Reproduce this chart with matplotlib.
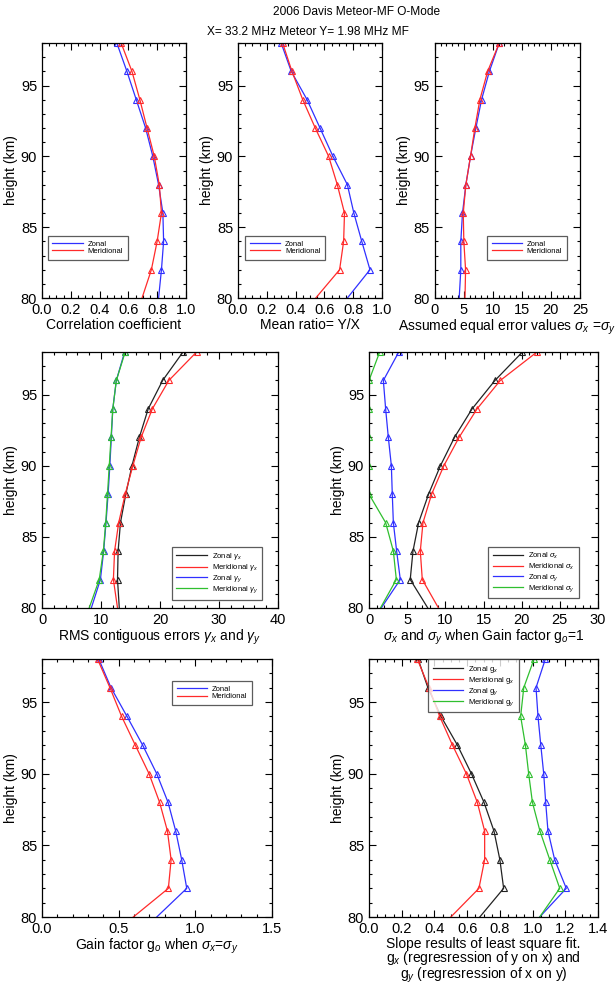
import numpy as np
import matplotlib
matplotlib.use("Agg")
import matplotlib.pyplot as plt
from matplotlib.ticker import MultipleLocator, FormatStrFormatter

plt.rcParams["font.family"] = ["Liberation Sans", "DejaVu Sans"]
plt.rcParams["mathtext.fontset"] = "custom"
plt.rcParams["mathtext.rm"] = "Liberation Sans"
plt.rcParams["mathtext.it"] = "Liberation Sans:italic"

# heights (km)
height = [80, 82, 84, 86, 88, 90, 92, 94, 96, 98]

# correlation coefficient
corr_zon = [0.81, 0.83, 0.845, 0.84, 0.81, 0.77, 0.72, 0.655, 0.59, 0.52]
corr_mer = [0.695, 0.76, 0.80, 0.83, 0.815, 0.78, 0.73, 0.68, 0.625, 0.55]

# mean ratio Y/X
ratio_zon = [0.76, 0.917, 0.86, 0.805, 0.76, 0.66, 0.57, 0.48, 0.37, 0.30]
ratio_mer = [0.54, 0.706, 0.734, 0.74, 0.69, 0.63, 0.537, 0.45, 0.375, 0.31]

# assumed equal error values
err_zon = [4.2, 4.48, 4.48, 4.77, 5.35, 6.15, 7.07, 8.05, 9.4, 11.1]
err_mer = [5.2, 5.3, 5.0, 4.9, 5.35, 6.15, 6.9, 7.76, 9.1, 11.1]

# RMS contiguous errors
gx_zon = [13.1, 12.8, 12.9, 13.3, 14.2, 15.25, 16.5, 18.0, 20.45, 23.9]
gx_mer = [12.8, 12.1, 12.3, 13.0, 14.1, 15.4, 16.8, 18.7, 21.5, 26.2]
gy_zon = [8.36, 9.9, 10.45, 10.85, 11.2, 11.5, 11.75, 12.0, 12.6, 14.0]
gy_mer = [8.0, 9.7, 10.4, 10.8, 11.1, 11.4, 11.7, 12.0, 12.6, 14.1]

# sigma x / sigma y with gain factor 1
sx_zon = [7.7, 5.4, 5.76, 6.5, 7.8, 9.35, 11.2, 13.5, 16.5, 20.1]
sx_mer = [9.1, 6.98, 6.72, 7.07, 8.2, 9.8, 11.8, 14.15, 17.2, 22.0]
sy_zon = [1.6, 4.1, 3.62, 3.19, 3.05, 2.93, 2.53, 2.18, 1.88, 3.9]
sy_mer = [1.5, 3.58, 3.19, 2.18, 0.0, 0.0, 0.0, 0.0, 0.0, 1.4]

# gain factor go
go_zon = [0.748, 0.944, 0.911, 0.872, 0.822, 0.748, 0.656, 0.554, 0.45, 0.37]
go_mer = [0.595, 0.824, 0.842, 0.818, 0.767, 0.698, 0.608, 0.519, 0.443, 0.362]

# slopes of least square fit
slx_zon = [0.677, 0.823, 0.80, 0.764, 0.703, 0.626, 0.54, 0.44, 0.36, 0.30]
slx_mer = [0.50, 0.672, 0.707, 0.707, 0.662, 0.595, 0.51, 0.432, 0.367, 0.295]
sly_zon = [1.043, 1.206, 1.135, 1.094, 1.08, 1.068, 1.05, 1.033, 1.021, 1.078]
sly_mer = [1.043, 1.166, 1.105, 1.045, 0.999, 0.976, 0.956, 0.927, 0.946, 1.009]

BLUE = "#3030ff"
RED = "#ff2a2a"
BLACK = "#222222"
GREEN = "#2fbf2f"

fig = plt.figure(figsize=(6.15, 9.83), dpi=100)

fig.text(0.58, 0.9935, "2006 Davis Meteor-MF O-Mode", ha="center", va="top", fontsize=8.6)
fig.text(0.50, 0.9735, "X= 33.2 MHz Meteor Y= 1.98 MHz MF", ha="center", va="top", fontsize=8.6)


def setup(ax, xmax, xmajor, xminor, xlabel):
    ax.set_xlim(0, xmax)
    ax.set_ylim(80, 98)
    ax.xaxis.set_major_locator(MultipleLocator(xmajor))
    ax.xaxis.set_minor_locator(MultipleLocator(xminor))
    ax.yaxis.set_major_locator(MultipleLocator(5))
    ax.yaxis.set_minor_locator(MultipleLocator(1))
    ax.tick_params(which="both", direction="in", top=True, right=True, labelsize=10.5)
    ax.tick_params(which="major", length=5, width=0.8)
    ax.tick_params(which="minor", length=2.5, width=0.8)
    ax.set_ylabel("height (km)", fontsize=10, labelpad=2)
    ax.set_xlabel(xlabel, fontsize=10, labelpad=0.5, linespacing=0.88)
    for s in ax.spines.values():
        s.set_linewidth(0.9)


def curve(ax, x, color, label):
    ax.plot(x, height, color=color, lw=0.9, marker="^", ms=4.5, mfc="none",
            mec=color, mew=0.8, markevery=list(range(1, len(height))), label=label)


def legend(ax, x0, ytop):
    leg = ax.legend(loc="upper left", bbox_to_anchor=(x0, ytop),
                    fontsize=5.5, frameon=True, fancybox=False, handlelength=4.0,
                    borderpad=0.6, labelspacing=0.02, handletextpad=0.6,
                    borderaxespad=0)
    # lines only in the legend
    for ln in leg.get_lines():
        ln.set_marker("")
    leg.get_frame().set_edgecolor("#333333")
    leg.get_frame().set_linewidth(0.9)
    return leg


# top row
ax1 = fig.add_axes([0.0683, 0.6968, 0.234, 0.2594])
curve(ax1, corr_zon, BLUE, "Zonal")
curve(ax1, corr_mer, RED, "Meridional")
setup(ax1, 1.0, 0.2, 0.05, "Correlation coefficient")
ax1.xaxis.set_major_formatter(FormatStrFormatter("%.1f"))
legend(ax1, 0.04, 0.245)

ax2 = fig.add_axes([0.387, 0.6968, 0.234, 0.2594])
curve(ax2, ratio_zon, BLUE, "Zonal")
curve(ax2, ratio_mer, RED, "Meridional")
setup(ax2, 1.0, 0.2, 0.05, "Mean ratio= Y/X")
ax2.xaxis.set_major_formatter(FormatStrFormatter("%.1f"))
legend(ax2, 0.05, 0.245)

ax3 = fig.add_axes([0.707, 0.6968, 0.236, 0.2594])
curve(ax3, err_zon, BLUE, "Zonal")
curve(ax3, err_mer, RED, "Meridional")
setup(ax3, 25, 5, 1, r"Assumed equal error values $\sigma_x$ =$\sigma_y$")
legend(ax3, 0.36, 0.245)

# middle row
ax4 = fig.add_axes([0.0683, 0.3815, 0.3837, 0.2604])
curve(ax4, gx_zon, BLACK, r"Zonal $\gamma_x$")
curve(ax4, gx_mer, RED, r"Meridional $\gamma_x$")
curve(ax4, gy_zon, BLUE, r"Zonal $\gamma_y$")
curve(ax4, gy_mer, GREEN, r"Meridional $\gamma_y$")
setup(ax4, 40, 10, 2, r"RMS contiguous errors $\gamma_x$ and $\gamma_y$")
legend(ax4, 0.55, 0.24)

ax5 = fig.add_axes([0.6, 0.3815, 0.3724, 0.2604])
curve(ax5, sx_zon, BLACK, r"Zonal $\sigma_x$")
curve(ax5, sx_mer, RED, r"Meridional $\sigma_x$")
curve(ax5, sy_zon, BLUE, r"Zonal $\sigma_y$")
curve(ax5, sy_mer, GREEN, r"Meridional $\sigma_y$")
setup(ax5, 30, 5, 1, r"$\sigma_x$ and $\sigma_y$ when Gain factor g$_o$=1")
legend(ax5, 0.52, 0.24)

# bottom row
ax6 = fig.add_axes([0.0683, 0.0671, 0.374, 0.2625])
curve(ax6, go_zon, BLUE, "Zonal")
curve(ax6, go_mer, RED, "Meridional")
setup(ax6, 1.5, 0.5, 0.1, r"Gain factor g$_o$ when $\sigma_x$=$\sigma_y$")
ax6.xaxis.set_major_formatter(FormatStrFormatter("%.1f"))
legend(ax6, 0.565, 0.915)

ax7 = fig.add_axes([0.6, 0.0671, 0.3724, 0.2625])
curve(ax7, slx_zon, BLACK, r"Zonal g$_x$")
curve(ax7, slx_mer, RED, r"Meridional g$_x$")
curve(ax7, sly_zon, BLUE, r"Zonal g$_y$")
curve(ax7, sly_mer, GREEN, r"Meridional g$_y$")
setup(ax7, 1.4, 0.2, 0.05,
      "Slope results of least square fit.\n"
      r"g$_x$ (regresression of y on x) and" "\n"
      r"g$_y$ (regresression of x on y)")
ax7.xaxis.set_major_formatter(FormatStrFormatter("%.1f"))
legend(ax7, 0.258, 1.0)

fig.savefig("out.png", dpi=100)
